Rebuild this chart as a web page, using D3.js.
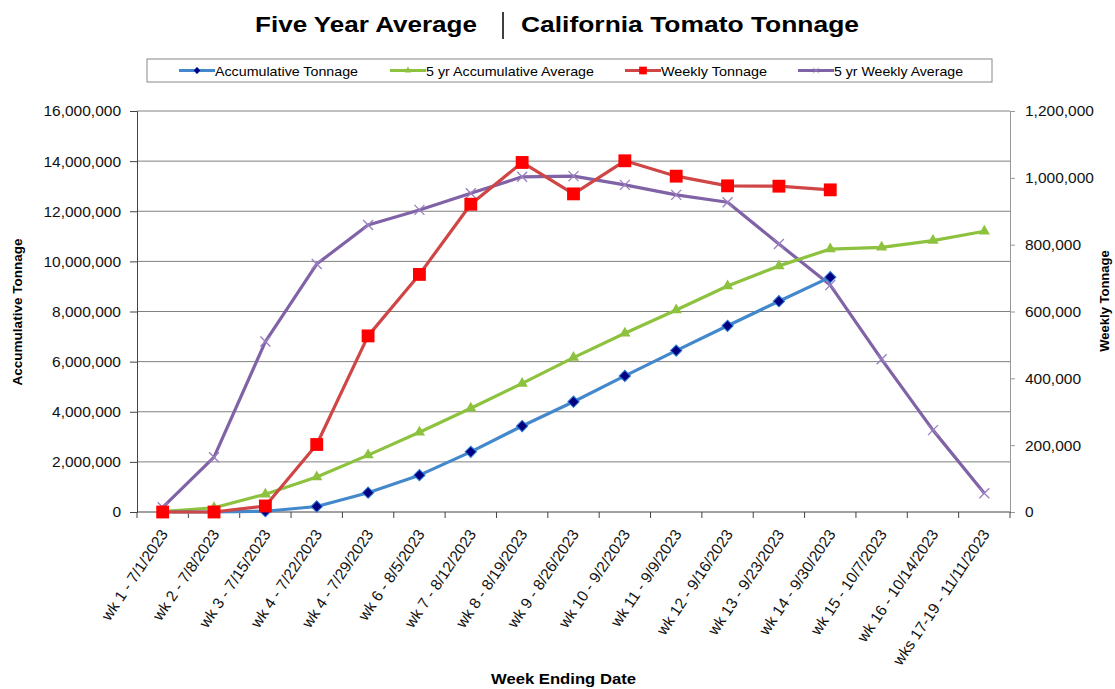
<!DOCTYPE html>
<html>
<head>
<meta charset="utf-8">
<script src="https://cdn.jsdelivr.net/npm/d3@7"></script>
<style>
  body { margin: 0; background: #fff; }
  text { font-family: "Liberation Sans", Arial, sans-serif; }
</style>
</head>
<body>
<svg id="chart" width="1115" height="689"></svg>
<script>
// categories on the x axis
const weeks = [
  "wk 1 - 7/1/2023", "wk 2 - 7/8/2023", "wk 3 - 7/15/2023", "wk 4 - 7/22/2023",
  "wk 4 - 7/29/2023", "wk 6 - 8/5/2023", "wk 7 - 8/12/2023", "wk 8 - 8/19/2023",
  "wk 9 - 8/26/2023", "wk 10 - 9/2/2023", "wk 11 - 9/9/2023", "wk 12 - 9/16/2023",
  "wk 13 - 9/23/2023", "wk 14 - 9/30/2023", "wk 15 - 10/7/2023", "wk 16 - 10/14/2023",
  "wks 17-19 - 11/11/2023"
];

// left axis series
const accumTonnage = [0, 0, 30000, 220000, 770000, 1470000, 2400000, 3430000,
  4400000, 5430000, 6440000, 7430000, 8410000, 9370000];
const accumAvg = [20000, 170000, 710000, 1400000, 2270000, 3180000, 4140000, 5130000,
  6160000, 7130000, 8060000, 9020000, 9820000, 10490000, 10560000, 10830000, 11200000];

// right axis series
const weeklyTonnage = [0, 0, 18000, 202000, 527000, 711000, 921000, 1046000,
  952000, 1051000, 1005000, 976000, 975000, 964000];
const weeklyAvg = [14000, 164000, 510000, 742000, 859000, 904000, 954000, 1003000,
  1005000, 979000, 949000, 927000, 802000, 679000, 457000, 245000, 56000];

const leftTicks = d3.range(0, 16000001, 2000000);
const rightTicks = d3.range(0, 1200001, 200000);

const svg = d3.select("#chart");
const plot = { left: 137, right: 1010, top: 111, bottom: 512 };

const x = d3.scaleBand().domain(weeks).range([plot.left, plot.right]);
const yL = d3.scaleLinear().domain([0, 16000000]).range([plot.bottom, plot.top]);
const yR = d3.scaleLinear().domain([0, 1200000]).range([plot.bottom, plot.top]);
const fmt = d3.format(",");
const cx = (i) => x(weeks[i]) + x.bandwidth() / 2;

// title (the original is drawn wide, so stretch to its measured widths)
const title = svg.append("g").style("font-weight", "bold").style("font-size", "22px");
title.append("text").attr("x", 255).attr("y", 32)
  .attr("textLength", 222).attr("lengthAdjust", "spacingAndGlyphs").text("Five Year Average");
title.append("line").attr("x1", 503).attr("x2", 503).attr("y1", 12).attr("y2", 39)
  .attr("stroke", "#000").attr("stroke-width", 1.5);
title.append("text").attr("x", 521).attr("y", 32)
  .attr("textLength", 338).attr("lengthAdjust", "spacingAndGlyphs").text("California Tomato Tonnage");

// gridlines
svg.append("g")
  .selectAll("line")
  .data(leftTicks.slice(1))
  .join("line")
  .attr("x1", plot.left).attr("x2", plot.right)
  .attr("y1", d => yL(d)).attr("y2", d => yL(d))
  .attr("stroke", "#808080").attr("stroke-width", 1);

// left axis
const axL = svg.append("g").attr("transform", `translate(${plot.left},0)`)
  .call(d3.axisLeft(yL).tickValues(leftTicks).tickFormat(fmt).tickSize(7).tickPadding(9));
axL.selectAll("line, path").attr("stroke", "#444");
// right axis
const axR = svg.append("g").attr("transform", `translate(${plot.right},0)`)
  .call(d3.axisRight(yR).tickValues(rightTicks).tickFormat(fmt).tickSize(5).tickPadding(10));
axR.selectAll("line, path").attr("stroke", "#999");
[axL, axR].forEach(a => {
  a.selectAll("text").style("font-size", "15.5px").attr("fill", "#111");
});

// bottom axis: ticks between categories
const axB = svg.append("g").attr("transform", `translate(0,${plot.bottom})`);
axB.append("line").attr("x1", plot.left).attr("x2", plot.right).attr("stroke", "#444");
axB.selectAll("line.tk")
  .data(d3.range(weeks.length + 1))
  .join("line").attr("class", "tk")
  .attr("x1", i => plot.left + i * x.bandwidth()).attr("x2", i => plot.left + i * x.bandwidth())
  .attr("y1", 0).attr("y2", 6).attr("stroke", "#444");
axB.selectAll("text")
  .data(weeks)
  .join("text")
  .attr("text-anchor", "end")
  .attr("transform", (d, i) => `translate(${cx(i) + 6},${22}) rotate(-56)`)
  .style("font-size", "15.5px")
  .attr("fill", "#111")
  .text(d => d);

// axis titles
svg.append("text").attr("transform", "translate(22,312) rotate(-90)")
  .attr("text-anchor", "middle").style("font-weight", "bold").style("font-size", "13.5px")
  .text("Accumulative Tonnage");
svg.append("text").attr("transform", "translate(1109,301) rotate(-90)")
  .attr("text-anchor", "middle").style("font-weight", "bold").style("font-size", "13px")
  .text("Weekly Tonnage");
svg.append("text").attr("x", 491).attr("y", 684)
  .attr("textLength", 145).attr("lengthAdjust", "spacingAndGlyphs")
  .style("font-weight", "bold").style("font-size", "15px")
  .text("Week Ending Date");

// marker drawing
function marker(g, type, color, edge) {
  if (type === "x") {
    g.append("path").attr("d", "M-5,-5L5,5M-5,5L5,-5")
      .attr("stroke", color).attr("stroke-width", 1.3).attr("fill", "none");
  } else if (type === "diamond") {
    // excel style diamond: a square turned 45 degrees
    g.append("path").attr("d", d3.symbol(d3.symbolSquare, 64)())
      .attr("transform", "rotate(45)")
      .attr("fill", color).attr("stroke", edge || "none").attr("stroke-width", 1);
  } else {
    const sym = { square: d3.symbolSquare, triangle: d3.symbolTriangle }[type];
    const size = { square: 165, triangle: 55 }[type];
    g.append("path").attr("d", d3.symbol(sym, size)())
      .attr("fill", color).attr("stroke", edge || "none").attr("stroke-width", 1);
  }
}

const series = [
  { name: "5 yr Weekly Average", values: weeklyAvg, y: yR, line: "#8062a6", mark: "x", mcol: "#9a7fc0" },
  { name: "5 yr Accumulative Average", values: accumAvg, y: yL, line: "#8dc23f", mark: "triangle", mcol: "#8dc23f" },
  { name: "Accumulative Tonnage", values: accumTonnage, y: yL, line: "#4488cc", mark: "diamond", mcol: "#000080", edge: "#2a7ad8" },
  { name: "Weekly Tonnage", values: weeklyTonnage, y: yR, line: "#d04545", mark: "square", mcol: "#ff0000" }
];

series.forEach(s => {
  const line = d3.line().x((d, i) => cx(i)).y(d => s.y(d));
  svg.append("path").datum(s.values).attr("d", line)
    .attr("fill", "none").attr("stroke", s.line).attr("stroke-width", 3.2)
    .attr("stroke-linejoin", "round");
  s.values.forEach((v, i) => {
    const g = svg.append("g").attr("transform", `translate(${cx(i)},${s.y(v)})`);
    marker(g, s.mark, s.mcol, s.edge);
  });
});

// legend
svg.append("rect").attr("x", 147).attr("y", 59).attr("width", 845).attr("height", 23)
  .attr("fill", "#fff").attr("stroke", "#888");
const legendOrder = [
  { s: series[2], x: 179, w: 143 },
  { s: series[1], x: 390, w: 168 },
  { s: series[3], x: 625, w: 106 },
  { s: series[0], x: 798, w: 129 }
];
legendOrder.forEach(({ s, x: lx, w }) => {
  const g = svg.append("g").attr("transform", `translate(${lx},70.5)`);
  g.append("line").attr("x1", 0).attr("x2", 36).attr("stroke", s.line).attr("stroke-width", 3);
  const m = g.append("g").attr("transform", "translate(18,0) scale(0.6)");
  marker(m, s.mark, s.mcol, s.edge);
  g.append("text").attr("x", 36).attr("y", 5).style("font-size", "13.5px")
    .attr("textLength", w).attr("lengthAdjust", "spacingAndGlyphs").text(s.name);
});
</script>
</body>
</html>
